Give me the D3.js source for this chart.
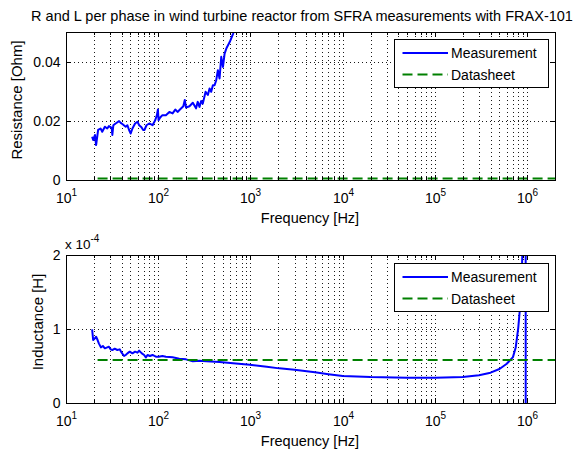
<!DOCTYPE html>
<html>
<head>
<meta charset="utf-8">
<style>
  body { margin: 0; background: #fff; }
  svg text { font-family: "Liberation Sans", Arial, Helvetica, sans-serif; fill: #000; }
  .grid line { stroke: #1a1a1a; stroke-width: 1; stroke-dasharray: 1,3; }
  .ticks .tick line { stroke: #000; }
</style>
</head>
<body>
<svg width="582" height="451"></svg>
<script src="https://cdn.jsdelivr.net/npm/d3@7"></script>
<script>
// --- data ---
var title = "R and L per phase in wind turbine reactor from SFRA measurements with FRAX-101";
var seriesNames = ["Measurement", "Datasheet"];

// resistance measurement [Hz], [Ohm]
var freqR = [19.2, 19.7, 20.6, 21.2, 22.3, 23.7, 24.7, 26.4, 28, 29.2, 31.3, 31.8, 32.6, 34.5, 37.6, 39.2, 40.8,
  44.4, 46.3, 48.3, 50.3, 52.5, 56.1, 59.5, 62.1, 65.8, 68.6, 71, 74.6, 79.8, 86.7, 92.7, 96.7, 99.2, 100.8,
  105, 111, 121, 132, 143, 153, 162, 172, 187, 194, 200, 218, 237, 257, 268, 280, 292, 304, 326, 345, 360,
  375, 391, 408, 425, 443, 462, 482, 503, 524, 547, 595, 647, 692, 760];
var resistance = [0.0146, 0.0135, 0.0152, 0.0118, 0.0169, 0.0174, 0.0163, 0.0180, 0.0174, 0.0182, 0.0176, 0.0152,
  0.0185, 0.0191, 0.0199, 0.0193, 0.0189, 0.0180, 0.0185, 0.0169, 0.0157, 0.0174, 0.0191, 0.0197, 0.0185,
  0.0178, 0.0169, 0.0169, 0.0185, 0.0191, 0.0185, 0.0202, 0.0219, 0.0238, 0.0202, 0.0211, 0.0219, 0.0219,
  0.0230, 0.0225, 0.0238, 0.0230, 0.0238, 0.0249, 0.0270, 0.0245, 0.0249, 0.0261, 0.0242, 0.0264, 0.0247,
  0.0267, 0.0258, 0.0298, 0.0287, 0.0309, 0.0298, 0.0320, 0.0320, 0.0337, 0.0371, 0.0343, 0.0416, 0.0382,
  0.0427, 0.0444, 0.0466, 0.0494, 0.0522, 0.0560];

// inductance measurement [Hz], [x 10^-4 H]
var freqL = [19.2, 19.7, 20.6, 21.2, 22, 22.7, 23.9, 25.1, 26.4, 28, 29.2, 30.5, 31.8, 33.7, 36, 38.2, 40.1,
  42.6, 44.4, 46.3, 49.1, 52.5, 56.1, 59.5, 62.1, 66.4, 70.3, 73.4, 76.5, 81.2, 86.7, 94.3, 100.8, 111, 121,
  143, 169, 200, 237, 280, 331, 462, 647, 982, 1500, 2050, 3000, 5000, 7000, 1e4, 2e4, 5e4, 1e5, 2e5, 3e5,
  4e5, 5e5, 6e5, 7e5, 7.5e5, 8e5, 8.3e5, 8.7e5, 9e5, 9.3e5, 9.6e5, 9.65e5, 9.8e5, 1.05e6, 2e6];
var inductance = [0.996, 0.851, 0.874, 0.896, 0.851, 0.806, 0.752, 0.770, 0.739, 0.752, 0.761, 0.725, 0.716,
  0.734, 0.716, 0.725, 0.680, 0.635, 0.649, 0.671, 0.694, 0.671, 0.694, 0.680, 0.707, 0.671, 0.649, 0.617,
  0.649, 0.635, 0.649, 0.626, 0.626, 0.635, 0.626, 0.617, 0.599, 0.590, 0.563, 0.572, 0.563, 0.554, 0.536,
  0.518, 0.491, 0.468, 0.45, 0.415, 0.39, 0.365, 0.35, 0.342, 0.34, 0.35, 0.375, 0.41, 0.46, 0.53, 0.62,
  0.75, 1.02, 1.25, 1.7, 2.3, 3.5, 8, -8, -3, -1.5, -0.5];

// datasheet values (constant)
var sheetFreq = [22, 2e6];
var sheetR = 0.0005;
var sheetL = 0.58;

var xDecades = [1e1, 1e2, 1e3, 1e4, 1e5, 1e6];
var rTicks = [0, 0.02, 0.04];
var lTicks = [0, 1, 2];

// --- layout ---
var svg = d3.select("svg");
var left = 66, right = 555;
var font = "\"Liberation Sans\", Arial, Helvetica, sans-serif";

var x = d3.scaleLog().domain([10, 2e6]).range([left, right]);
var xr = x.copy().rangeRound([left, right]);

var minor = [];
xDecades.forEach(function(d) {
  for (var m = 2; m < 10; m++) { if (m * d < 2e6) minor.push(m * d); }
});

svg.append("rect").attr("width", 582).attr("height", 451).attr("fill", "#fff");

svg.append("text")
  .attr("x", 302).attr("y", 21)
  .attr("text-anchor", "middle")
  .attr("font-size", 14.5)
  .text(title);

function panel(p) {
  var y = d3.scaleLinear().domain(p.domain).range([p.bottom, p.top]);
  var yr = y.copy().rangeRound([p.bottom, p.top]);
  var g = svg.append("g");

  svg.append("clipPath").attr("id", p.id)
    .append("rect")
      .attr("x", left).attr("y", p.top)
      .attr("width", right - left).attr("height", p.bottom - p.top);

  // dotted grid
  var grid = g.append("g").attr("class", "grid");
  grid.selectAll("line.v")
    .data(xDecades.concat(minor).filter(function(d) { return d > 10; }))
    .enter().append("line").attr("class", "v")
      .attr("x1", function(d) { return xr(d) + 0.5; })
      .attr("x2", function(d) { return xr(d) + 0.5; })
      .attr("y1", p.top).attr("y2", p.bottom);
  grid.selectAll("line.h")
    .data(p.ticks.filter(function(d) { return d > p.domain[0] && d < p.domain[1]; }))
    .enter().append("line").attr("class", "h")
      .attr("x1", left).attr("x2", right)
      .attr("y1", function(d) { return yr(d) + 0.5; })
      .attr("y2", function(d) { return yr(d) + 0.5; });

  // data lines
  var line = d3.line()
    .x(function(d) { return x(d[0]); })
    .y(function(d) { return y(d[1]); });

  var lines = g.append("g").attr("clip-path", "url(#" + p.id + ")");
  lines.append("path")
    .datum(d3.zip(p.freq, p.values))
    .attr("fill", "none")
    .attr("stroke", "#0000ff")
    .attr("stroke-width", 2)
    .attr("stroke-linejoin", "round")
    .attr("d", line);
  lines.append("path")
    .datum(sheetFreq.map(function(f) { return [f, p.sheet]; }))
    .attr("fill", "none")
    .attr("stroke", "#008000")
    .attr("stroke-width", 2)
    .attr("stroke-dasharray", "10,5")
    .attr("d", line);

  // ticks on all four sides, pointing inwards
  var ticks = g.append("g").attr("class", "ticks");
  function strip(sel) { sel.select(".domain").remove(); }
  ticks.append("g").attr("transform", "translate(0," + p.bottom + ")")
    .call(d3.axisBottom(xr).tickValues(xDecades).tickSizeInner(-5).tickSizeOuter(0).tickFormat("")).call(strip);
  ticks.append("g").attr("transform", "translate(0," + p.bottom + ")")
    .call(d3.axisBottom(xr).tickValues(minor).tickSizeInner(-3).tickSizeOuter(0).tickFormat("")).call(strip);
  ticks.append("g").attr("transform", "translate(0," + p.top + ")")
    .call(d3.axisTop(xr).tickValues(xDecades).tickSizeInner(-5).tickSizeOuter(0).tickFormat("")).call(strip);
  ticks.append("g").attr("transform", "translate(0," + p.top + ")")
    .call(d3.axisTop(xr).tickValues(minor).tickSizeInner(-3).tickSizeOuter(0).tickFormat("")).call(strip);
  ticks.append("g").attr("transform", "translate(" + right + ",0)")
    .call(d3.axisRight(yr).tickValues(p.ticks).tickSizeInner(-5).tickSizeOuter(0).tickFormat("")).call(strip);
  var yAxis = ticks.append("g").attr("transform", "translate(" + left + ",0)")
    .call(d3.axisLeft(yr).tickValues(p.ticks).tickSizeInner(-5).tickSizeOuter(0).tickPadding(5.5).tickFormat(p.fmt))
    .call(strip);
  yAxis.attr("font-family", font).attr("font-size", 14);

  // box
  g.append("rect")
    .attr("x", left + 0.5).attr("y", p.top + 0.5)
    .attr("width", right - left).attr("height", p.bottom - p.top)
    .attr("fill", "none").attr("stroke", "#000");

  // x tick labels 10^n
  g.append("g").selectAll("text")
    .data(xDecades)
    .enter().append("text")
      .attr("x", function(d) { return xr(d) + 0.5; })
      .attr("y", p.bottom + 23)
      .attr("text-anchor", "middle")
      .attr("font-size", 14)
      .each(function(d) {
        var t = d3.select(this);
        t.append("tspan").text("10");
        t.append("tspan").attr("dy", -7).attr("font-size", 10).text(Math.round(Math.log10(d)));
      });

  g.append("text")
    .attr("x", 310).attr("y", p.bottom + 43)
    .attr("text-anchor", "middle")
    .attr("font-size", 14.5)
    .text("Frequency [Hz]");

  g.append("text")
    .attr("transform", "translate(" + p.labelX + "," + p.labelY + ") rotate(-90)")
    .attr("text-anchor", "middle")
    .attr("font-size", 15)
    .text(p.label);

  // legend
  var lg = g.append("g").attr("transform", "translate(394," + p.legendTop + ")");
  lg.append("rect")
    .attr("x", 0.5).attr("y", 0.5).attr("width", 154).attr("height", 48)
    .attr("fill", "#fff").attr("stroke", "#000");
  var item = lg.selectAll("g.item")
    .data(seriesNames)
    .enter().append("g").attr("class", "item")
      .attr("transform", function(d, i) { return "translate(0," + (14 + i * 21.5) + ")"; });
  item.append("line")
    .attr("x1", 8.5).attr("x2", 54).attr("y1", 0).attr("y2", 0)
    .attr("stroke-width", 2)
    .attr("stroke", function(d, i) { return i === 0 ? "#0000ff" : "#008000"; })
    .attr("stroke-dasharray", function(d, i) { return i === 0 ? null : "10,5"; });
  item.append("text")
    .attr("x", 57).attr("y", 5)
    .attr("font-size", 14)
    .text(function(d) { return d; });

  return g;
}

panel({
  id: "clipR", top: 32, bottom: 180, domain: [0, 0.05], ticks: rTicks,
  fmt: function(d) { return d === 0 ? "0" : d.toFixed(2); },
  freq: freqR, values: resistance, sheet: sheetR,
  label: "Resistance [Ohm]", labelX: 22, labelY: 100, legendTop: 39
});

var g2 = panel({
  id: "clipL", top: 255, bottom: 403, domain: [0, 2], ticks: lTicks,
  fmt: function(d) { return String(d); },
  freq: freqL, values: inductance, sheet: sheetL,
  label: "Inductance [H]", labelX: 43, labelY: 322, legendTop: 263
});

// exponent note for the inductance axis
var ex = g2.append("text").attr("x", 65).attr("y", 249).attr("font-size", 13.5);
ex.append("tspan").text("x 10");
ex.append("tspan").attr("dy", -7).attr("font-size", 10).text("-4");
</script>
</body>
</html>
